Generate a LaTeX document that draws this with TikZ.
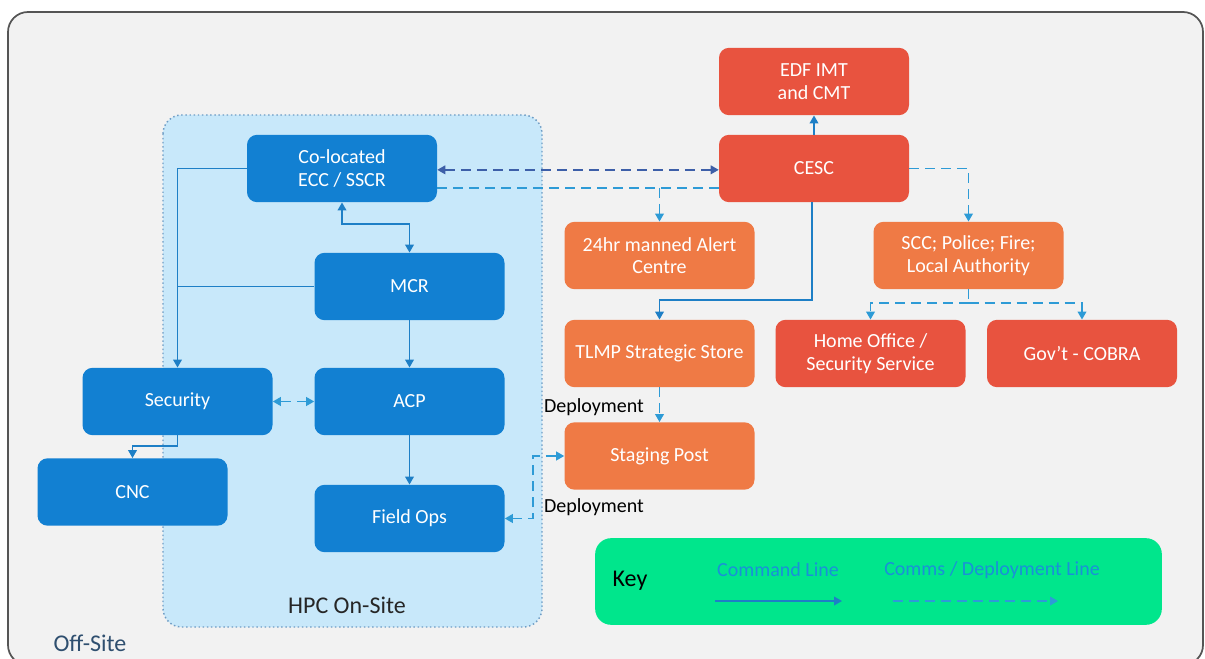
\documentclass[tikz,border=0pt]{standalone}
\usepackage{fontspec}
\setmainfont{Carlito}
\usetikzlibrary{arrows.meta}
\definecolor{bgc}{HTML}{F2F2F2}
\definecolor{framec}{HTML}{555555}
\definecolor{hpcfill}{HTML}{C8E8FA}
\definecolor{hpcline}{HTML}{6E9CC4}
\definecolor{bluebox}{HTML}{1280D2}
\definecolor{redbox}{HTML}{E8533F}
\definecolor{orangebox}{HTML}{EF7A45}
\definecolor{keygreen}{HTML}{00E68C}
\definecolor{cmdc}{HTML}{1E7FC6}
\definecolor{commc}{HTML}{2E9BD6}
\definecolor{commdark}{HTML}{3D5FA8}
\definecolor{keytext}{HTML}{1A90D8}
\definecolor{offsite}{HTML}{2F4F6F}
\tikzset{
  boxbase/.style={rounded corners=7.5pt, minimum width=142.5pt, minimum height=50.5pt,
    inner sep=2pt, align=center, text=white, font=\fontsize{15}{17}\selectfont},
  bbox/.style={boxbase, fill=bluebox},
  rbox/.style={boxbase, fill=redbox},
  obox/.style={boxbase, fill=orangebox},
  cmd/.style={draw=cmdc, line width=1.25pt},
  comm/.style={draw=commc, line width=1.25pt, dash pattern=on 7.5pt off 4.5pt},
  commd/.style={draw=commdark, line width=1.25pt, dash pattern=on 7.5pt off 4.5pt},
  lbl/.style={font=\fontsize{15}{17}\selectfont, inner sep=0pt},
}
\begin{document}
\begin{tikzpicture}[x=0.75pt,y=-0.75pt,>={Triangle[length=6pt,width=6.5pt]}]
\useasboundingbox (0,0) rectangle (1205,659);
\fill[white] (0,0) rectangle (1205,659);
\draw[draw=framec, fill=bgc, line width=1.3pt, rounded corners=15pt] (8,12) rectangle (1203,665);
% HPC container
\draw[draw=hpcline, fill=hpcfill, line width=1.1pt, dotted, rounded corners=14pt] (163,115) rectangle (542,627);
\node[lbl, font=\fontsize{18}{20}\selectfont, text=black!85] (hpc) at (347,605) {HPC On-Site};
\node[lbl, font=\fontsize{18}{20}\selectfont, text=offsite] (off) at (90,643) {Off-Site};
% Blue boxes
\node[bbox] (coloc) at (342,168.5) {Co-located\\ECC / SSCR};
\node[bbox] (mcr) at (409.5,286.5) {MCR};
\node[bbox] (sec) at (177.5,401.5) {Security};
\node[bbox] (acp) at (409.5,401.5) {ACP};
\node[bbox] (cnc) at (132.5,492) {CNC};
\node[bbox] (field) at (409.5,518.5) {Field Ops};
% Red / orange boxes
\node[rbox] (edf) at (814,81.5) {EDF IMT\\and CMT};
\node[rbox] (cesc) at (814,168.5) {CESC};
\node[obox] (alert) at (659.5,255.5) {24hr manned Alert\\Centre};
\node[obox] (tlmp) at (659.5,353.5) {TLMP Strategic Store};
\node[obox] (staging) at (659.5,456) {Staging Post};
\node[obox] (scc) at (968.5,255.5) {SCC; Police; Fire;\\Local Authority};
\node[rbox] (home) at (870.5,353.5) {Home Office /\\Security Service};
\node[rbox] (gov) at (1082,353.5) {Gov't - COBRA};
% Key
\node[rounded corners=12pt, fill=keygreen, minimum width=425pt, minimum height=65pt] (key) at (878.5,581.5) {};
\node[lbl, font=\fontsize{18}{20}\selectfont, text=black] (keylbl) at (630,581) {Key};
\node[lbl, text=keytext] (cmdlbl) at (778,570) {Command Line};
\node[lbl, text=keytext] (commlbl) at (992,570) {Comms / Deployment Line};
\coordinate (k1) at (715,601);
\coordinate (k2) at (842,601);
\coordinate (k3) at (893,601);
\coordinate (k4) at (1058,601);
\draw[cmd,->] (k1) -- (k2);
\draw[comm,->] (k3) -- (k4);
% Deployment labels
\node[lbl, text=black] (dep1) at (594,407) {Deployment};
\node[lbl, text=black] (dep2) at (594,507) {Deployment};
% Junctions
\coordinate (j1) at (409.5,224);
\coordinate (j2) at (132.5,446);
\coordinate (j3) at (659.5,188);
\coordinate (j4) at (659.5,300);
\coordinate (j5) at (968.5,303);
\coordinate (j6) at (533,456);
% Command lines (solid)
\draw[cmd,->] (coloc.west) -| (sec.north);
\draw[cmd] (mcr.west) -- (mcr.west -| sec.north);
\draw[cmd,<->] (coloc.south) |- (j1) -- (mcr.north);
\draw[cmd,->] (mcr) -- (acp);
\draw[cmd,->] (acp) -- (field);
\draw[cmd,->] (sec.south) |- (j2) -- (cnc.north);
\draw[cmd,->] (cesc) -- (edf);
\draw[cmd,->] ([xshift=-1.5pt]cesc.south) |- (j4) -- (tlmp.north);
% Comms lines (dashed)
\draw[comm,<->] (acp) -- (sec);
\draw[commd,<->] ([yshift=-1pt]coloc.east) -- ([yshift=-1pt]cesc.west);
\draw[comm] ([yshift=-14.6pt]coloc.east) -- ([yshift=-14.6pt]cesc.west);
\draw[comm,->] (j3) -- (alert.north);
\draw[comm,->] (cesc.east) -| (scc.north);
\draw[comm] (scc.south) -- (j5);
\draw[comm,->] (j5) -| (home.north);
\draw[comm,->] (j5) -| (gov.north);
\draw[comm,->] (tlmp) -- (staging);
\draw[comm,<->] (field.east) -| (j6) -- (staging.west);
\end{tikzpicture}
\end{document}
